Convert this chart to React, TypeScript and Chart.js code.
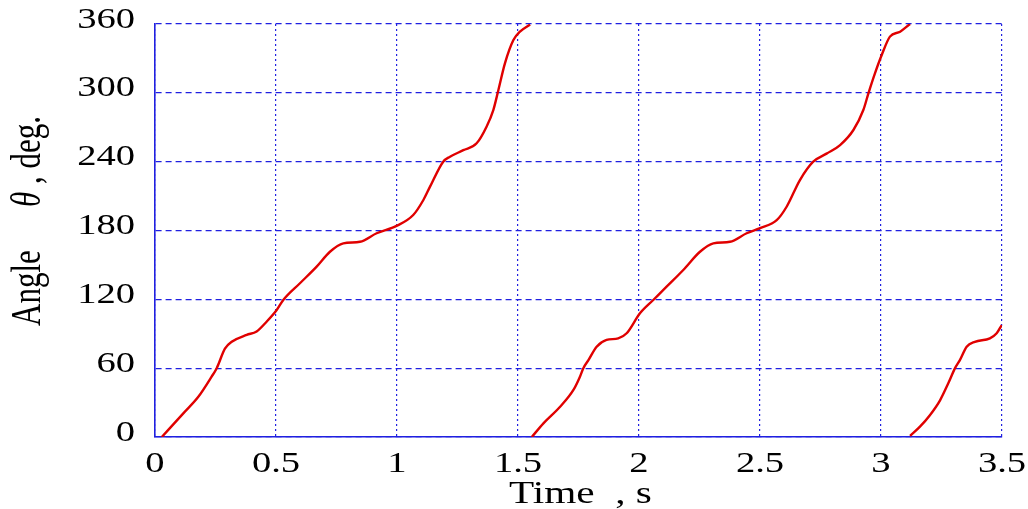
import React, { useEffect, useRef } from "react";
import { Chart, registerables } from "chart.js";

Chart.register(...registerables);

const seg1Time = [0.028, 0.117, 0.179, 0.234, 0.255, 0.289, 0.317, 0.379, 0.42, 0.461, 0.503, 0.53, 0.599, 0.668, 0.723, 0.778, 0.847, 0.916, 0.998, 1.067, 1.109, 1.136, 1.191, 1.219, 1.274, 1.329, 1.37, 1.398, 1.419, 1.446, 1.481, 1.508, 1.55];
const seg1Angle = [0, 20.6, 35, 52.6, 60, 77, 83, 89, 92, 100.5, 110.7, 119.4, 134, 148.5, 161.5, 168.8, 170.2, 177.6, 184, 193.5, 206.6, 218, 240, 244.3, 250, 256, 270.5, 285, 302.5, 325.7, 346, 353.3, 359.5];

const seg2Time = [1.557, 1.605, 1.674, 1.729, 1.756, 1.77, 1.791, 1.825, 1.866, 1.914, 1.949, 2.004, 2.059, 2.114, 2.183, 2.252, 2.307, 2.376, 2.445, 2.5, 2.569, 2.61, 2.665, 2.72, 2.775, 2.831, 2.886, 2.927, 2.948, 2.975, 3.003, 3.037, 3.079, 3.12];
const seg2Angle = [0, 11.9, 26.4, 41, 52.6, 60, 67, 78.7, 84.6, 86, 90.4, 107.8, 119.4, 131, 145.6, 161.5, 168.8, 170.2, 177.6, 182, 189, 200.7, 224, 240, 247, 254.5, 267.6, 285, 299.6, 317, 333, 349, 353.3, 360];

const seg3Time = [3.12, 3.161, 3.202, 3.244, 3.278, 3.306, 3.326, 3.354, 3.388, 3.45, 3.478, 3.499];
const seg3Angle = [0.9, 9, 19, 32, 46.8, 60, 67, 78.7, 83, 86, 90.4, 97.6];

const xTicks = [0, 0.5, 1, 1.5, 2, 2.5, 3, 3.5];
const yTicks = [0, 60, 120, 180, 240, 300, 360];

const xTitle = "Time  , s";
const yTitleParts = ["Angle", "θ", ", deg."];

const RED = "#e00000";
const BLUE = "#2020e0";
const FONT = '"Liberation Serif", "Times New Roman", serif';
const SX = 1.33;

function seg(ts: number[], as: number[]) {
  return ts.map((t, i) => ({ x: t, y: as[i] }));
}

const textPlugin = {
  id: "stretchedText",
  afterDraw(chart: any) {
    const ctx = chart.ctx as CanvasRenderingContext2D;
    const xs = chart.scales.x;
    const ys = chart.scales.y;
    ctx.save();
    ctx.fillStyle = "#000";
    ctx.font = `29px ${FONT}`;
    // y tick labels
    ctx.textAlign = "right";
    ctx.textBaseline = "middle";
    for (const v of yTicks) {
      const y = ys.getPixelForValue(v);
      ctx.save();
      ctx.translate(chart.chartArea.left - 20, y - 4);
      ctx.scale(SX, 1);
      ctx.fillText(String(v), 0, 0);
      ctx.restore();
    }
    // x tick labels
    ctx.textAlign = "center";
    ctx.textBaseline = "alphabetic";
    for (const v of xTicks) {
      const x = xs.getPixelForValue(v);
      ctx.save();
      ctx.translate(x, chart.chartArea.bottom + 35);
      ctx.scale(SX, 1);
      ctx.fillText(String(v), 0, 0);
      ctx.restore();
    }
    // x title
    ctx.font = `31px ${FONT}`;
    ctx.save();
    ctx.translate((chart.chartArea.left + chart.chartArea.right) / 2 + 2, chart.chartArea.bottom + 66);
    ctx.scale(SX, 1);
    ctx.fillText(xTitle, 0, 0);
    ctx.restore();
    // y title (rotated), parts positioned along the axis
    const starts = [326, 207, 184];
    const fonts = [`31px ${FONT}`, `italic 31px ${FONT}`, `31px ${FONT}`];
    ctx.textAlign = "left";
    for (let i = 0; i < yTitleParts.length; i++) {
      ctx.save();
      ctx.font = fonts[i];
      ctx.translate(40, starts[i]);
      ctx.rotate(-Math.PI / 2);
      ctx.scale(1, SX);
      ctx.fillText(yTitleParts[i], 0, 0);
      ctx.restore();
    }
    ctx.restore();
  },
};

export default function App() {
  const ref = useRef<HTMLCanvasElement | null>(null);
  useEffect(() => {
    if (!ref.current) return;
    const mk = (data: { x: number; y: number }[]) => ({
      data,
      borderColor: RED,
      backgroundColor: RED,
      borderWidth: 2.4,
      pointRadius: 0,
      pointHoverRadius: 0,
      tension: 0.3,
      cubicInterpolationMode: "monotone" as const,
      showLine: true,
    });
    const chart = new Chart(ref.current, {
      type: "line",
      data: {
        datasets: [
          mk(seg(seg1Time, seg1Angle)),
          mk(seg(seg2Time, seg2Angle)),
          mk(seg(seg3Time, seg3Angle)),
        ],
      },
      options: {
        animation: false,
        responsive: false,
        maintainAspectRatio: false,
        layout: { padding: { left: 0, right: 26, top: 24, bottom: 0 } },
        plugins: { legend: { display: false }, tooltip: { enabled: false } },
        scales: {
          x: {
            type: "linear",
            min: 0,
            max: 3.5,
            afterBuildTicks: (s: any) => {
              s.ticks = xTicks.map((v) => ({ value: v }));
            },
            afterFit: (s: any) => {
              s.height = 72;
            },
            ticks: { display: false },
            grid: { color: BLUE, lineWidth: 1.2, drawTicks: false },
            border: { color: BLUE, width: 1.6, dash: [2, 3] },
            title: { display: false },
          },
          y: {
            type: "linear",
            min: 0,
            max: 360,
            afterBuildTicks: (s: any) => {
              s.ticks = yTicks.map((v) => ({ value: v }));
            },
            afterFit: (s: any) => {
              s.width = 155;
            },
            ticks: { display: false },
            grid: { color: BLUE, lineWidth: 1.2, drawTicks: false },
            border: { color: BLUE, width: 1.6, dash: [6, 4] },
            title: { display: false },
          },
        },
      },
      plugins: [textPlugin],
    });
    return () => chart.destroy();
  }, []);
  return (
    <div style={{ position: "fixed", left: 0, top: 0, width: 1028, height: 509, background: "#fff" }}>
      <canvas ref={ref} width={1028} height={509} style={{ width: 1028, height: 509 }} />
    </div>
  );
}
